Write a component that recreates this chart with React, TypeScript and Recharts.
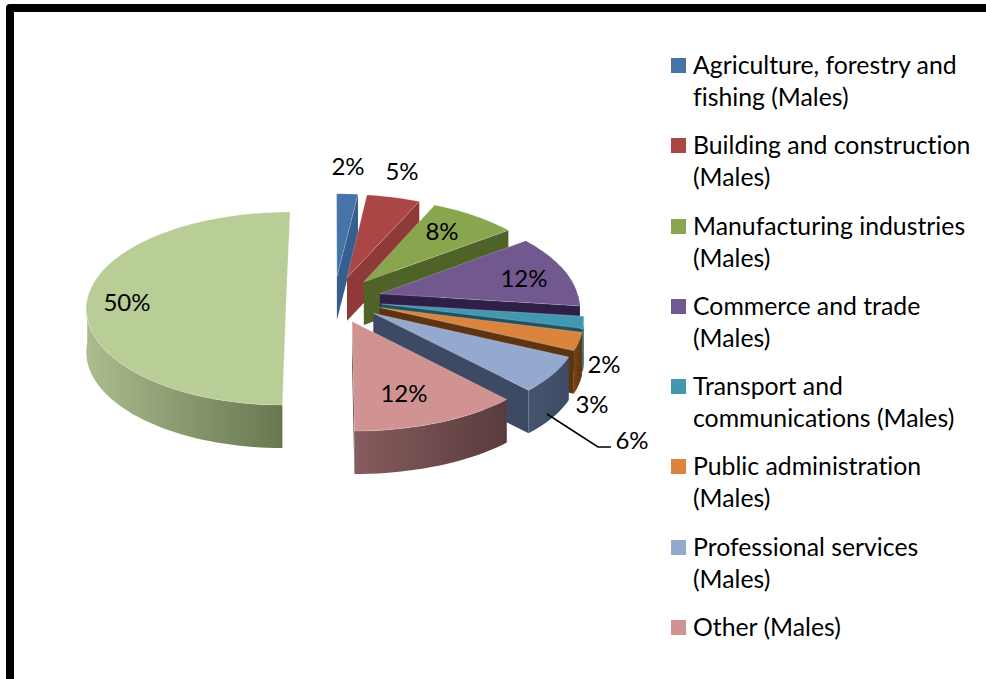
import React from 'react';
import { PieChart, Pie, Legend } from 'recharts';

const CATEGORIES = [
  'Agriculture, forestry and fishing (Males)',
  'Building and construction (Males)',
  'Manufacturing industries (Males)',
  'Commerce and trade (Males)',
  'Transport and communications (Males)',
  'Public administration (Males)',
  'Professional services (Males)',
  'Other (Males)',
  'Remainder (Males)',
];
const VALUES = [2, 5, 8, 12, 2, 3, 6, 12, 50];
const TOP_COLORS = ['#4674A8', '#AA4643', '#89A54E', '#71588F', '#4198AF', '#DB843D', '#93A9CF', '#D19392', '#B9CD96'];
// left and right shade of each slice's outer wall
const WALL_COLORS = [
  ['#2F5078', '#2F5078'],
  ['#8F3A38', '#8F3A38'],
  ['#4F6228', '#4F6228'],
  ['#2E1F46', '#2E1F46'],
  ['#2B6A7C', '#226070'],
  ['#7A4412', '#5E3410'],
  ['#46556F', '#3C4A63'],
  ['#875C5E', '#5A3B3C'],
  ['#ABBC8E', '#68774F'],
];
const EDGE_COLORS = ['#365E8E', '#8F3A38', '#4F6228', '#2E1F46', '#1F5260', '#5E3410', '#3C4A63', '#5A3B3C', '#68774F'];
const LABEL_CENTERS = [
  [348, 165], [402, 170], [442, 230], [524, 277], [604, 363], [592, 403], [632, 439], [404, 392], [127, 301],
];
const LEADER_LINE = '547,414 598,447 611,447';

const FONT = 'Lato, sans-serif';
const LEGEND_COUNT = 8;
const LARGEST = 8;

const pieData = CATEGORIES.map((name, i) => ({ name, value: VALUES[i], fill: TOP_COLORS[i] }));

// Tilted, slightly perspective view of the pie plane
const EXPLODE = 0.24;
const DEPTH = 43;
const rad = (d: number) => (d * Math.PI) / 180;

function SliceShape(props: any) {
  const { cx, cy, outerRadius, startAngle, endAngle, index } = props;
  const from = 90 - startAngle;
  const to = 90 - endAngle;
  const mid = rad((from + to) / 2);

  const project = (theta: number, r: number) => {
    const t = rad(theta);
    const X = EXPLODE * Math.sin(mid) + r * Math.sin(t);
    const Y = -(EXPLODE * Math.cos(mid) + r * Math.cos(t));
    const lean = index === LARGEST ? 0.08 : Y < 0 ? 0.115 : 0.13;
    return [cx + outerRadius * X * (1 + lean * Y), cy + 96.5 * Y + 9 * Y * Y];
  };
  const rim = (a: number, b: number) => {
    const pts: number[][] = [];
    const n = Math.max(2, Math.ceil(Math.abs(b - a) / 2));
    for (let i = 0; i <= n; i++) pts.push(project(a + ((b - a) * i) / n, 1));
    return pts;
  };
  const toPath = (pts: number[][]) => 'M' + pts.map((p) => `${p[0].toFixed(1)},${p[1].toFixed(1)}`).join('L') + 'Z';
  const drop = (p: number[]) => [p[0], p[1] + DEPTH];

  const apex = project(0, 0);
  const outer = rim(from, to);
  const endPoint = outer[outer.length - 1];
  const wallFrom = Math.max(from, 90);
  const wallTo = Math.min(to, 270);
  const wall = wallTo > wallFrom ? rim(wallFrom, wallTo) : null;
  const gradId = `wall-${index}`;
  const xs = wall ? wall.map((p) => p[0]) : [0, 1];

  return (
    <g>
      <defs>
        <linearGradient id={gradId} gradientUnits="userSpaceOnUse" x1={Math.min(...xs)} x2={Math.max(...xs)} y1={0} y2={0}>
          <stop offset="0" stopColor={WALL_COLORS[index][0]} />
          <stop offset="1" stopColor={WALL_COLORS[index][1]} />
        </linearGradient>
      </defs>
      {index < LARGEST && <path d={toPath([apex, endPoint, drop(endPoint), drop(apex)])} fill={EDGE_COLORS[index]} />}
      {wall && <path d={toPath([...wall, ...wall.map(drop).reverse()])} fill={`url(#${gradId})`} />}
      <path d={toPath([apex, ...outer])} fill={TOP_COLORS[index]} stroke="#ffffff" strokeOpacity={0.25} strokeWidth={0.8} />
    </g>
  );
}

function renderLabel({ index }: any) {
  const [x, y] = LABEL_CENTERS[index];
  return (
    <g key={index}>
      {index === 6 && <polyline points={LEADER_LINE} fill="none" stroke="#000" strokeWidth={1.5} />}
      <text x={x} y={y} textAnchor="middle" dominantBaseline="central" fontFamily={FONT} fontSize={24} fill="#000">
        {VALUES[index]}%
      </text>
    </g>
  );
}

function LegendList({ payload }: any) {
  const rows = (payload || []).slice(0, LEGEND_COUNT);
  return (
    <div style={{ fontFamily: FONT, fontSize: 24.8, lineHeight: '32px', color: '#000', fontVariantLigatures: 'none' }}>
      {rows.map((row: any, i: number) => (
        <div key={i} style={{ position: 'relative', height: 80.3, paddingLeft: 22 }}>
          <span style={{ position: 'absolute', left: 0, top: 9, width: 15, height: 15, background: row.color }} />
          {row.value}
        </div>
      ))}
    </div>
  );
}

export default function App() {
  return (
    <div style={{ position: 'absolute', left: 0, top: 0, width: 986, height: 679, overflow: 'hidden', background: '#fff' }}>
      <div
        style={{
          position: 'absolute', left: 6, top: 4, width: 1100, height: 900,
          border: '8px solid #000', borderRadius: 4, boxSizing: 'border-box',
        }}
      />
      <div style={{ position: 'absolute', left: 0, top: 0 }}>
        <PieChart width={986} height={679} margin={{ top: 0, right: 0, bottom: 0, left: 0 }}>
          <Pie
            data={pieData}
            dataKey="value"
            nameKey="name"
            cx={334}
            cy={299.5}
            outerRadius={199}
            startAngle={90}
            endAngle={-270}
            stroke="none"
            shape={SliceShape}
            label={renderLabel}
            labelLine={false}
            isAnimationActive={false}
          />
          <Legend
            layout="vertical"
            align="right"
            verticalAlign="top"
            itemSorter={null}
            content={LegendList}
            wrapperStyle={{ left: 671, top: 49, width: 310, right: 'auto' }}
          />
        </PieChart>
      </div>
    </div>
  );
}
